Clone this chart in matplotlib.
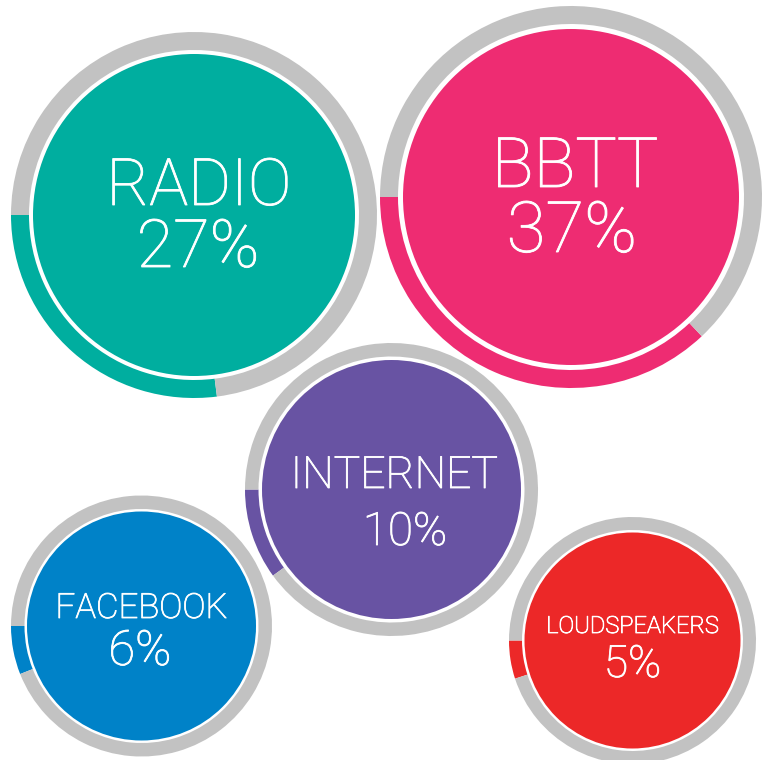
import matplotlib
matplotlib.use("Agg")
import matplotlib.pyplot as plt
import matplotlib.patheffects as pe
from matplotlib.patches import Wedge, Circle

plt.rcParams['font.family'] = ['Roboto', 'DejaVu Sans']

# dados
labels = ['RADIO', 'BBTT', 'INTERNET', 'FACEBOOK', 'LOUDSPEAKERS']
shares = [27, 37, 10, 6, 5]
colors = ['#00AE9F', '#EE2C72', '#6853A3', '#0082C8', '#EC2828']
ring_gray = '#C2C2C2'

# layout (pixels)
centers = [(194, 215), (571, 197), (391.5, 489.5), (141.5, 626), (632.5, 640.5)]
r_outer = [183, 191, 146.5, 130.5, 123.5]
ring_w = [18, 18, 13.5, 13.5, 13]
gap = [4, 5, 3.5, 2.5, 2.5]
label_pos = [(199, 205), (575, 187), (394.5, 488), (141.5, 618), (632.5, 633)]
label_fs = [47, 50, 32, 25, 17]
pct_pos = [(198, 267), (572, 252), (405, 545), (140, 665), (632.5, 677)]
pct_fs = [48, 51, 33, 35, 32]

fig = plt.figure(figsize=(7.64, 7.60), dpi=100)
ax = fig.add_axes([0, 0, 1, 1])
ax.set_xlim(0, 764)
ax.set_ylim(760, 0)
ax.set_aspect('equal')
ax.axis('off')

# traço fino para engrossar um pouco a fonte light
thick = [pe.withStroke(linewidth=0.6, foreground='white')]

for i in range(len(labels)):
    c = centers[i]
    ang = shares[i] / 100 * 360
    # com eixo y invertido, o arco colorido parte das 9h e desce
    ax.add_patch(Wedge(c, r_outer[i], 180 - ang, 180, width=ring_w[i],
                       facecolor=colors[i], edgecolor='none'))
    ax.add_patch(Wedge(c, r_outer[i], 180, 540 - ang, width=ring_w[i],
                       facecolor=ring_gray, edgecolor='none'))
    r_disk = r_outer[i] - ring_w[i] - gap[i]
    ax.add_patch(Circle(c, r_disk, facecolor=colors[i], edgecolor='none'))

    ax.text(label_pos[i][0], label_pos[i][1], labels[i], color='white',
            fontsize=label_fs[i], fontweight='light', ha='center', va='baseline',
            path_effects=thick)
    ax.text(pct_pos[i][0], pct_pos[i][1], f'{shares[i]}%', color='white',
            fontsize=pct_fs[i], fontweight='light', ha='center', va='baseline',
            path_effects=thick)

fig.savefig('out.png', dpi=100)
